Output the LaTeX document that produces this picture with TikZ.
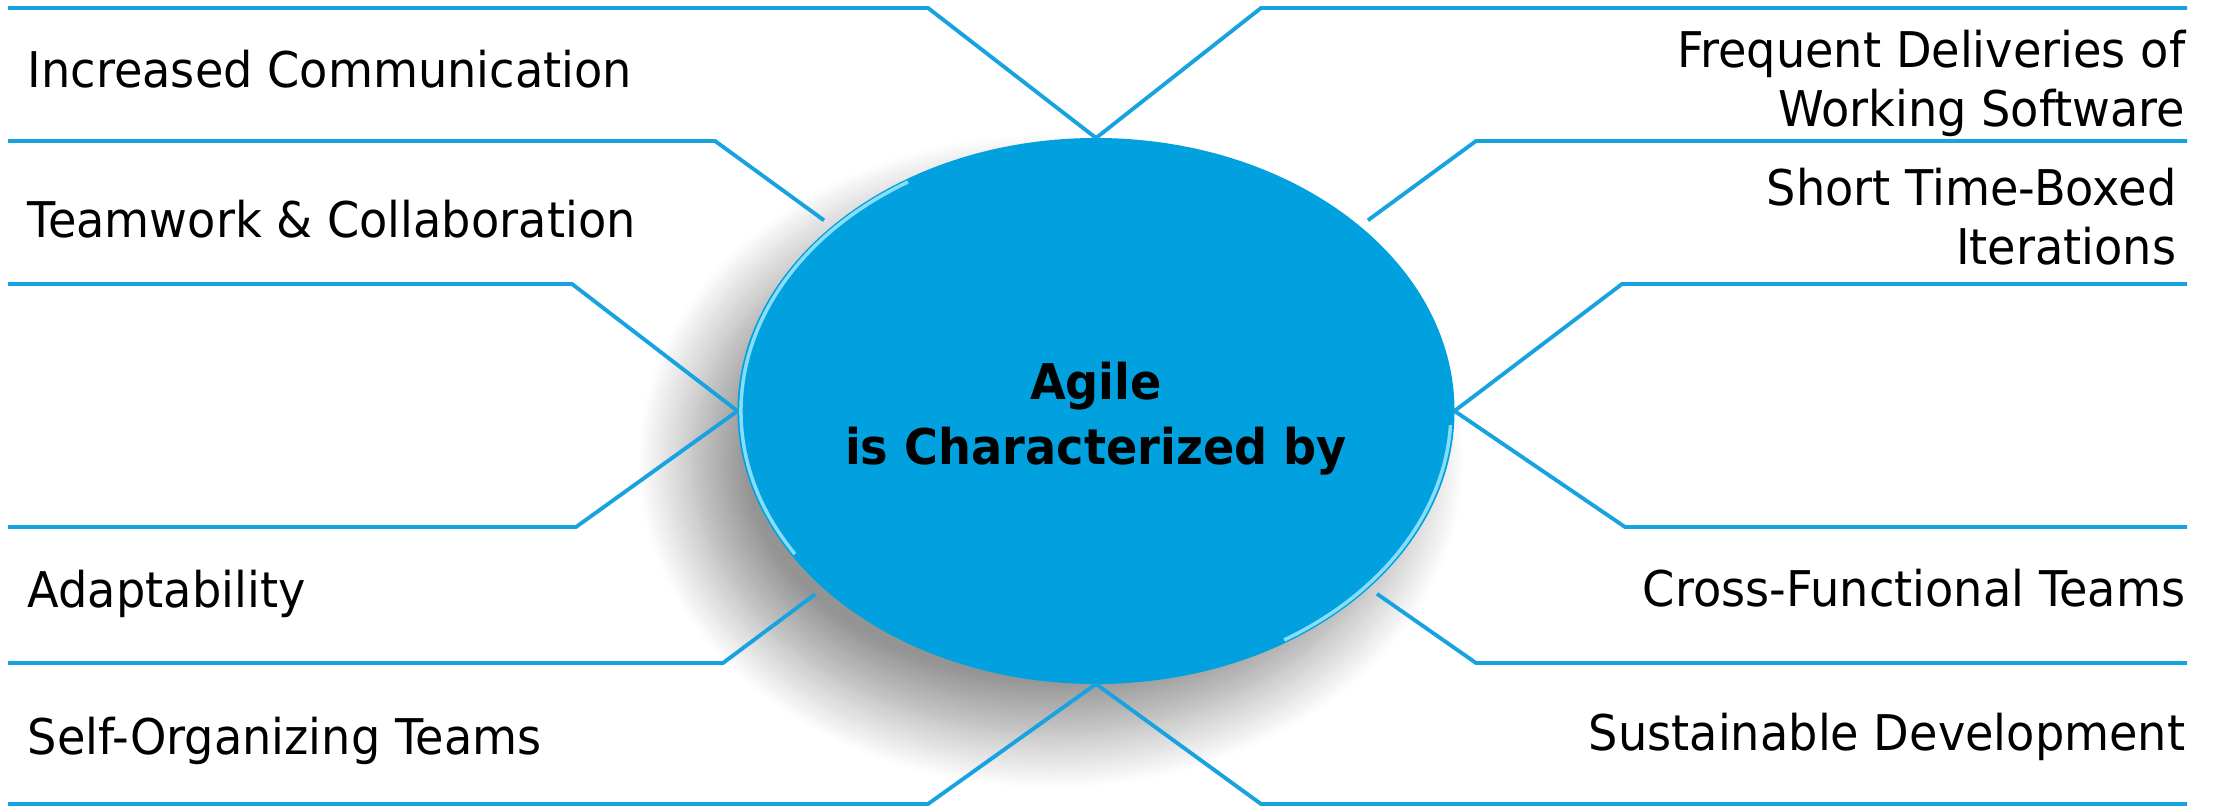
\documentclass[tikz,border=0pt]{standalone}
\usepackage{fontspec}
\setmainfont[FakeStretch=0.94]{DejaVu Sans}
\usepackage{tikz}
\usetikzlibrary{positioning,shapes.geometric,shadows.blur,calc}

\definecolor{agileblue}{RGB}{0,161,222}
\definecolor{railblue}{RGB}{22,163,224}
\definecolor{rimblue}{RGB}{160,232,255}

\begin{document}
\begin{tikzpicture}[
    font=\fontsize{14}{17}\selectfont,
    hub/.style={ellipse, fill=agileblue, inner sep=0pt, outer sep=0pt,
                minimum width=7.17cm, minimum height=5.46cm,
                blur shadow={shadow xshift=-0.45cm, shadow yshift=-0.5cm,
                             shadow blur radius=0.55cm, shadow opacity=42,
                             shadow blur steps=25}},
    hubtext/.style={align=center, inner sep=0pt,
                    font=\fontsize{14}{16.5}\selectfont\bfseries},
    rail/.style={draw=railblue, line width=1.1pt, line join=miter},
    gap/.style={shorten >=0.1cm},
    rim/.style={draw=rimblue, line width=1pt, draw opacity=0.85},
    lbl/.style={inner sep=0pt, anchor=base west, align=left},
    lblr/.style={inner sep=0pt, anchor=base east, align=right}
  ]
    \useasboundingbox (0,0) rectangle (22.15,8.06);

    \node[hub] (E) at (10.96,3.95) {};
    \node[hubtext] (title) at ([yshift=-0.08cm]E.center)
      {Agile\\[2pt]is Characterized by};

    % light rim on the ellipse edge
    \draw[rim] ($(E.center)+(122:3.55cm and 2.70cm)$)
      arc[start angle=122, end angle=212, x radius=3.55cm, y radius=2.70cm];
    \draw[rim] ($(E.center)+(-3:3.55cm and 2.70cm)$)
      arc[start angle=-3, end angle=-58, x radius=3.55cm, y radius=2.70cm];

    % corners of the rails, left side
    \coordinate (l1a) at (0.08,7.98);  \coordinate (l1b) at (9.28,7.98);
    \coordinate (l2a) at (0.08,6.65);  \coordinate (l2b) at (7.15,6.65);
    \coordinate (l3a) at (0.08,5.22);  \coordinate (l3b) at (5.72,5.22);
    \coordinate (l4a) at (0.08,2.79);  \coordinate (l4b) at (5.76,2.79);
    \coordinate (l5a) at (0.08,1.43);  \coordinate (l5b) at (7.23,1.43);
    \coordinate (l6a) at (0.08,0.02);  \coordinate (l6b) at (9.28,0.02);
    % right side
    \coordinate (r1a) at (21.87,7.98); \coordinate (r1b) at (12.61,7.98);
    \coordinate (r2a) at (21.87,6.65); \coordinate (r2b) at (14.76,6.65);
    \coordinate (r3a) at (21.87,5.22); \coordinate (r3b) at (16.22,5.22);
    \coordinate (r4a) at (21.87,2.79); \coordinate (r4b) at (16.25,2.79);
    \coordinate (r5a) at (21.87,1.43); \coordinate (r5b) at (14.76,1.43);
    \coordinate (r6a) at (21.87,0.02); \coordinate (r6b) at (12.61,0.02);

    \draw[rail] (l1a) -- (l1b) -- (E.north);
    \draw[rail, gap] (l2a) -- (l2b) -- (E.145);
    \draw[rail] (l3a) -- (l3b) -- (E.west);
    \draw[rail] (l4a) -- (l4b) -- (E.west);
    \draw[rail, gap] (l5a) -- (l5b) -- (E.213);
    \draw[rail] (l6a) -- (l6b) -- (E.south);

    \draw[rail] (r1a) -- (r1b) -- (E.north);
    \draw[rail, gap] (r2a) -- (r2b) -- (E.35);
    \draw[rail] (r3a) -- (r3b) -- (E.east);
    \draw[rail] (r4a) -- (r4b) -- (E.east);
    \draw[rail, gap] (r5a) -- (r5b) -- (E.-33);
    \draw[rail] (r6a) -- (r6b) -- (E.south);

    % labels (base = last line for the two-line ones)
    \node[lbl] (comm) at (0.27,7.18) {Increased Communication};
    \node[lbl] (team) at (0.27,5.68) {Teamwork \& Collaboration};
    \node[lbl] (adapt) at (0.27,1.98) {Adaptability};
    \node[lbl] (self) at (0.27,0.51) {Self-Organizing Teams};

    \node[lblr] (deliv) at (21.86,6.79) {Frequent Deliveries of\\Working Software};
    \node[lblr] (iter) at (21.77,5.41) {Short Time-Boxed\\Iterations};
    \node[lblr] (cross) at (21.86,1.99) {Cross-Functional Teams};
    \node[lblr] (sust) at (21.86,0.55) {Sustainable Development};
  \end{tikzpicture}
\end{document}
